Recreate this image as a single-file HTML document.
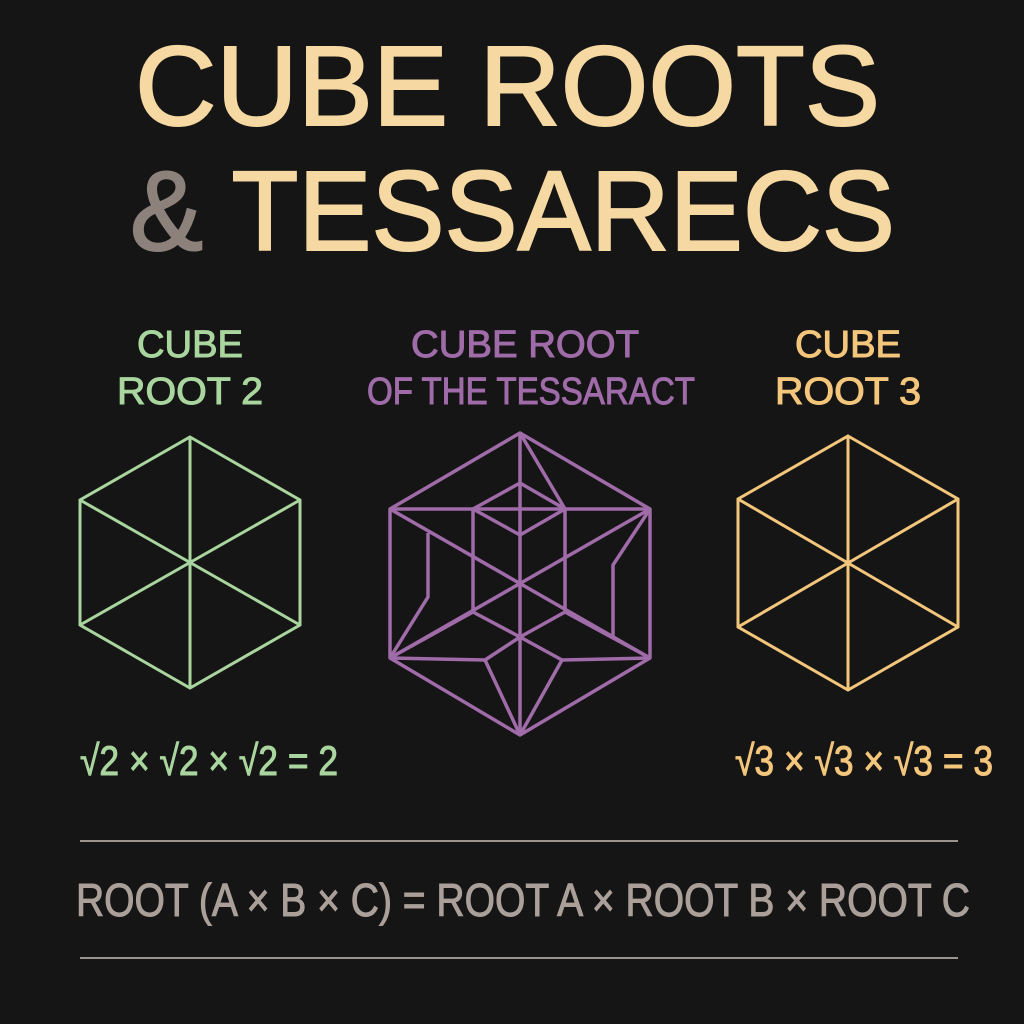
<!DOCTYPE html>
<html><head><meta charset="utf-8"><style>
html,body{margin:0;padding:0;background:#151414;}
svg{display:block}
text{font-family:"Liberation Sans","DejaVu Sans",sans-serif;}
</style></head><body>
<svg width="1024" height="1024" viewBox="0 0 1024 1024">
<rect width="1024" height="1024" fill="#161515"/>
<g fill="#f6d9a2" stroke="#f6d9a2" stroke-width="2" font-size="113">
<text x="135" y="125" textLength="745" lengthAdjust="spacingAndGlyphs">CUBE ROOTS</text>
<text x="130" y="250" textLength="765" lengthAdjust="spacingAndGlyphs"><tspan fill="#8c827b" stroke="#8c827b">&amp;</tspan> TESSARECS</text>
</g>
<g font-size="38" text-anchor="middle" stroke-width="1">
<text x="190" y="357" fill="#a9d59e" stroke="#a9d59e" textLength="106" lengthAdjust="spacingAndGlyphs">CUBE</text>
<text x="190" y="404" fill="#a9d59e" stroke="#a9d59e" textLength="146" lengthAdjust="spacingAndGlyphs">ROOT 2</text>
<text x="525" y="357" fill="#9f6ba8" stroke="#9f6ba8" textLength="228" lengthAdjust="spacingAndGlyphs">CUBE ROOT</text>
<text x="531" y="404" fill="#9f6ba8" stroke="#9f6ba8" textLength="328" lengthAdjust="spacingAndGlyphs">OF THE TESSARACT</text>
<text x="848" y="357" fill="#f3c67c" stroke="#f3c67c" textLength="106" lengthAdjust="spacingAndGlyphs">CUBE</text>
<text x="848" y="404" fill="#f3c67c" stroke="#f3c67c" textLength="146" lengthAdjust="spacingAndGlyphs">ROOT 3</text>
</g>
<g fill="none" stroke="#a9d59e" stroke-width="3">
<polygon points="190,437 300,500 300,625 190,688 80,625 80,500"/>
<line x1="190" y1="437" x2="190" y2="688"/><line x1="80" y1="500" x2="300" y2="625"/><line x1="300" y1="500" x2="80" y2="625"/>
</g>
<g fill="none" stroke="#f3c67c" stroke-width="3">
<polygon points="848,436 958,499 958,627 848,690 738,627 738,499"/>
<line x1="848" y1="436" x2="848" y2="690"/><line x1="738" y1="499" x2="958" y2="627"/><line x1="958" y1="499" x2="738" y2="627"/>
</g>
<g fill="none" stroke="#9f6ba8" stroke-width="3.5" stroke-linejoin="round">
<polygon points="520,433 650,509 650,658 520,735 390,658 390,509"/>
<line x1="390" y1="509" x2="650" y2="509"/>
<line x1="390" y1="509" x2="650" y2="658"/>
<line x1="650" y1="509" x2="390" y2="658"/>
<line x1="520" y1="433" x2="520" y2="735"/>
<line x1="520" y1="433" x2="565" y2="509"/>
<polygon points="520,483 565,509 565,612 520,637 473,612 473,509"/>
<polyline points="473,509 520,535 565,509"/>
<polyline points="390,658 485,660 520,637 562,660 650,658"/>
<line x1="485" y1="660" x2="520" y2="735"/><line x1="562" y1="660" x2="520" y2="735"/>
<line x1="390" y1="658" x2="473" y2="612"/><line x1="565" y1="612" x2="650" y2="658"/>
<polyline points="428,533 428,597 390,658"/>
<polyline points="650,509 613,565 613,637"/>
</g>
<g font-size="42" stroke-width="1">
<text x="80" y="775" fill="#a9d59e" stroke="#a9d59e" textLength="258" lengthAdjust="spacingAndGlyphs">√2 × √2 × √2 = 2</text>
<text x="735" y="775" fill="#f3c67c" stroke="#f3c67c" textLength="258" lengthAdjust="spacingAndGlyphs">√3 × √3 × √3 = 3</text>
</g>
<line x1="80" y1="841" x2="958" y2="841" stroke="#9c938c" stroke-width="2"/>
<line x1="80" y1="958" x2="958" y2="958" stroke="#9c938c" stroke-width="2"/>
<text x="76" y="916" font-size="46" fill="#aaa099" stroke="#aaa099" stroke-width="1" textLength="894" lengthAdjust="spacingAndGlyphs">ROOT (A × B × C) = ROOT A × ROOT B × ROOT C</text>
</svg>
</body></html>
